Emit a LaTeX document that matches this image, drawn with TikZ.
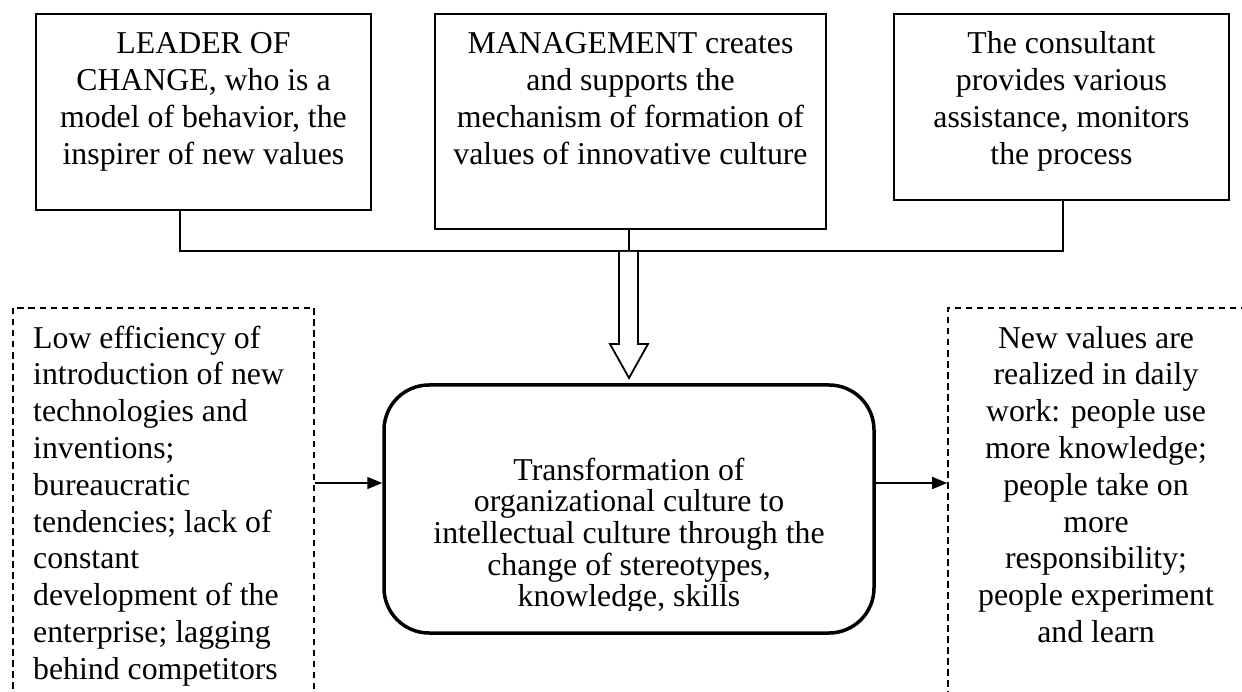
\documentclass[tikz,border=0pt]{standalone}
\usepackage{fontspec}
\setmainfont{Liberation Serif}
\usetikzlibrary{arrows.meta}
\begin{document}
\begin{tikzpicture}[x=1pt,y=-1pt,
  topbox/.style={draw, line width=1.4pt, inner sep=0pt},
  dbox/.style={draw, line width=1.6pt, inner sep=0pt, dash pattern=on 6.5pt off 4.5pt},
  centerbox/.style={draw, line width=3.5pt, rounded corners=45pt, inner sep=0pt},
  txt/.style={inner sep=0pt, align=center, font=\fontsize{31.8}{36.8}\selectfont},
  conn/.style={line width=1.5pt},
  arr/.style={line width=1.5pt, -{Triangle[length=15pt,width=12pt]}}]
\useasboundingbox (0,0) rectangle (1242,692);
\clip (0,0) rectangle (1242,692);
\fill[white] (0,0) rectangle (1242,692);
% top boxes
\node[topbox, minimum width=335pt, minimum height=196pt] (A) at (203.5,112) {};
\node[topbox, minimum width=391pt, minimum height=215pt] (B) at (630.5,121.5) {};
\node[topbox, minimum width=335pt, minimum height=186pt] (C) at (1061.5,107) {};
\node[txt, anchor=base] (At) at (203.5,164.4) {LEADER OF\\CHANGE, who is a\\model of behavior, the\\inspirer of new values};
\node[txt, anchor=base] (Bt) at (630.5,164.4) {MANAGEMENT creates\\and supports the\\mechanism of formation of\\values of innovative culture};
\node[txt, anchor=base] (Ct) at (1061.5,164.4) {The consultant\\provides various\\assistance, monitors\\the process};
% junction
\coordinate (jA) at (180,251);
\coordinate (jC) at (1063,251);
\coordinate (j) at (629,251);
\draw[conn] (jA |- A.south) -- (jA) -- (jC) -- (jC |- C.south);
\draw[conn] (j |- B.south) -- (j);
% central box
\node[centerbox, minimum width=490pt, minimum height=248pt] (T) at (629,509) {};
\begin{scope}
\clip (384,385) rectangle (874,610);
\node[txt, font=\fontsize{31.8}{31.7}\selectfont, anchor=base] (Tt) at (629,606.8) {Transformation of\\organizational culture to\\intellectual culture through the\\change of stereotypes,\\knowledge, skills};
\end{scope}
% hollow arrow
\draw[line width=1.8pt, line join=miter, fill=white] (619,252) -- (619,344) -- (610,344) -- (T.north |- 0,378) -- (648,344) -- (638,344) -- (638,252);
% dashed boxes
\node[dbox, minimum width=301pt, minimum height=432pt] (L) at (163.5,524) {};
\node[dbox, minimum width=302pt, minimum height=432pt] (R) at (1099,524) {};
\node[txt, align=left, anchor=base west] (Lt) at (33,679.2) {Low efficiency of\\introduction of new\\technologies and\\inventions;\\bureaucratic\\tendencies; lack of\\constant\\development of the\\enterprise; lagging\\behind competitors};
\node[txt, anchor=base] (Rt) at (1096,642.4) {New values are\\realized in daily\\work: people use\\more knowledge;\\people take on\\more\\responsibility;\\people experiment\\and learn};
% arrows
\coordinate (ay) at (0,483);
\draw[arr] (L.east |- ay) -- (T.west |- ay);
\draw[arr] (T.east |- ay) -- (R.west |- ay);
\end{tikzpicture}
\end{document}
